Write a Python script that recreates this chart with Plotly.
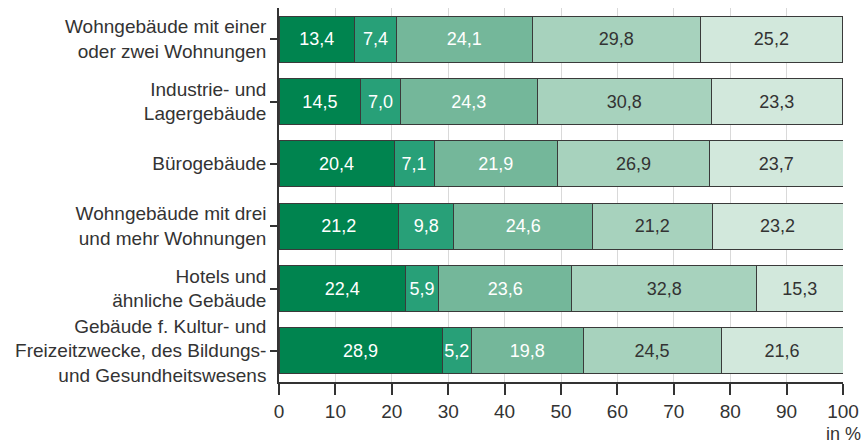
import plotly.graph_objects as go

# ============================================
# DATA
# ============================================
categories = [
    'Wohngebäude mit einer<br>oder zwei Wohnungen',
    'Industrie- und<br>Lagergebäude',
    'Bürogebäude',
    'Wohngebäude mit drei<br>und mehr Wohnungen',
    'Hotels und<br>ähnliche Gebäude',
    'Gebäude f. Kultur- und<br>Freizeitzwecke, des Bildungs-<br>und Gesundheitswesens',
]
seg1 = [13.4, 14.5, 20.4, 21.2, 22.4, 28.9]
seg2 = [7.4, 7.0, 7.1, 9.8, 5.9, 5.2]
seg3 = [24.1, 24.3, 21.9, 24.6, 23.6, 19.8]
seg4 = [29.8, 30.8, 26.9, 21.2, 32.8, 24.5]
seg5 = [25.2, 23.3, 23.7, 23.2, 15.3, 21.6]
x_ticks = [0, 10, 20, 30, 40, 50, 60, 70, 80, 90, 100]

# ============================================
# COLORS
# ============================================
C = {
    's1': '#00844f',
    's2': '#28a078',
    's3': '#74b79a',
    's4': '#a7d2bd',
    's5': '#d2e8dc',
    'text': '#333333',
    'grid': '#d9d9d9',
    'edge': '#3a3a3a',
}
FONT = 'Liberation Sans'

series = [
    (seg1, C['s1'], 'white'),
    (seg2, C['s2'], 'white'),
    (seg3, C['s3'], 'white'),
    (seg4, C['s4'], C['text']),
    (seg5, C['s5'], C['text']),
]

fig = go.Figure()
for vals, col, tcol in series:
    fig.add_trace(go.Bar(
        y=categories, x=vals,
        orientation='h',
        marker=dict(color=col, line=dict(color=C['edge'], width=1)),
        texttemplate='%{x:.1f}',
        textposition='inside',
        insidetextanchor='middle',
        textangle=0,
        constraintext='none',
        textfont=dict(size=18, color=tcol, family=FONT),
        showlegend=False,
        hoverinfo='skip'
    ))

fig.add_annotation(
    x=1.035, y=-0.14, xref='paper', yref='paper',
    text='in %', showarrow=False,
    xanchor='right', yanchor='middle',
    font=dict(size=18, color=C['text'], family=FONT)
)

# ============================================
# LAYOUT
# ============================================
fig.update_layout(
    width=867, height=446,
    barmode='stack',
    bargap=0.26,
    separators=', ',
    paper_bgcolor='white',
    plot_bgcolor='white',
    font=dict(family=FONT, size=19, color=C['text']),
    margin=dict(l=279, r=20, t=8, b=64),
)

fig.update_xaxes(
    range=[0, 100], tickvals=x_ticks,
    showgrid=True, gridcolor=C['grid'], gridwidth=1,
    zeroline=False,
    showline=True, linecolor=C['text'], linewidth=1.5,
    ticks='outside', ticklen=11, tickcolor=C['text'], tickwidth=1.5,
    tickfont=dict(size=19, color=C['text'], family=FONT),
)
fig.update_yaxes(
    autorange='reversed',
    showgrid=False,
    showline=True, linecolor=C['text'], linewidth=1.5,
    ticks='outside', ticklen=7, tickcolor=C['text'], tickwidth=1.5,
    tickfont=dict(size=19, color=C['text'], family=FONT),
)

# page body has a default 8px margin; drop it so the figure sits at 0,0
fig.write_html("out.html",
               config={'displayModeBar': False},
               post_script="document.body.style.margin='0';document.body.style.overflow='hidden';")
